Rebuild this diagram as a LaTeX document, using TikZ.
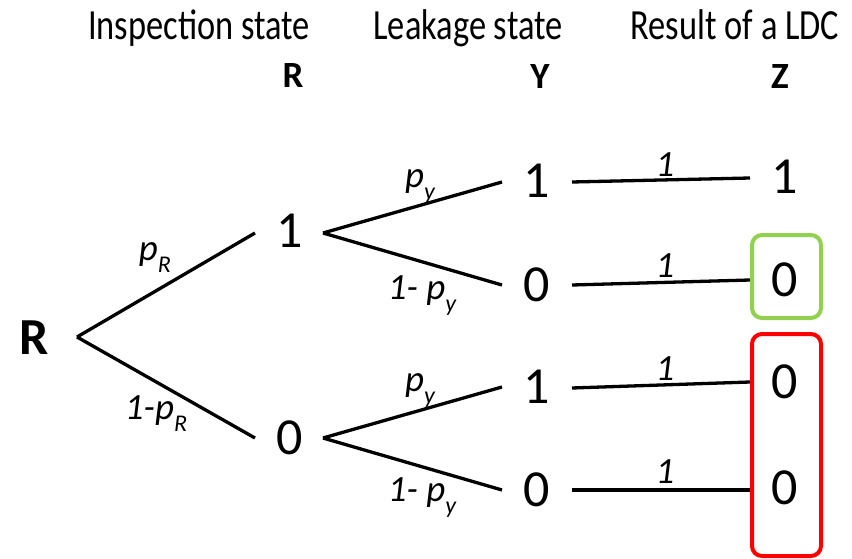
\documentclass[tikz,border=0pt]{standalone}
\usepackage{fontspec}
\setmainfont{Carlito}
\usepackage{graphicx}
\usetikzlibrary{calc}
\definecolor{boxgreen}{RGB}{146,208,80}
\definecolor{boxred}{RGB}{255,0,0}
\newcommand\sbs[1]{\raisebox{-12pt}{\fontsize{24}{24}\selectfont #1}}
\begin{document}
\begin{tikzpicture}[x=1pt,y=-1pt,
  edge/.style={line width=3.3pt},
  digit/.style={font=\fontsize{52}{52}\selectfont, inner sep=0pt},
  lbl/.style={font=\fontsize{37}{40}\selectfont\itshape, inner sep=0pt},
  head/.style={font=\fontsize{43}{50}\selectfont, anchor=base, inner sep=0pt},
  var/.style={font=\fontsize{37}{37}\selectfont\bfseries, inner sep=0pt},
  hl/.style={line width=4pt, rounded corners=10pt}]
\useasboundingbox (0,0) rectangle (852,559);
% headings
\node[head] (h1) at (199,40) {\scalebox{0.8}[1]{Inspection state}};
\node[head] (h2) at (468,40) {\scalebox{0.8}[1]{Leakage state}};
\node[head] (h3) at (735,40) {\scalebox{0.8}[1]{Result of a LDC}};
\node[var] (vR) at (293,76) {R};
\node[var] (vY) at (540,77) {Y};
\node[var] (vZ) at (780,77) {Z};
% nodes
\node[digit,font=\fontsize{52}{52}\selectfont\bfseries] (root) at (34,338) {R};
\node[digit] (n1) at (290,231) {1};
\node[digit] (n0) at (290,438) {0};
\node[digit] (y1a) at (537,181) {1};
\node[digit] (y0a) at (537,285) {0};
\node[digit] (y1b) at (537,387) {1};
\node[digit] (y0b) at (537,490) {0};
\node[digit] (z1a) at (785,177) {1};
\node[digit] (z0a) at (785,280) {0};
\node[digit] (z0b) at (785,382) {0};
\node[digit] (z0c) at (785,488) {0};
% edges level 1
\draw[edge] ($(root.center)+(43,-1)$) -- ($(n1.center)+(-35,2)$);
\draw[edge] ($(root.center)+(43,-1)$) -- ($(n0.center)+(-35,0)$);
% edges level 2
\draw[edge] ($(n1.center)+(33,2)$) -- ($(y1a.center)+(-35,1)$);
\draw[edge] ($(n1.center)+(33,2)$) -- ($(y0a.center)+(-35,0)$);
\draw[edge] ($(n0.center)+(33,0)$) -- ($(y1b.center)+(-35,0)$);
\draw[edge] ($(n0.center)+(33,0)$) -- ($(y0b.center)+(-35,0)$);
% edges level 3
\draw[edge] ($(y1a.center)+(35,1)$) -- ($(z1a.center)+(-35,1)$);
\draw[edge] ($(y0a.center)+(35,0)$) -- ($(z0a.center)+(-35,0)$);
\draw[edge] ($(y1b.center)+(35,1)$) -- ($(z0b.center)+(-35,0)$);
\draw[edge] ($(y0b.center)+(35,0)$) -- ($(z0c.center)+(-35,2)$);
% probability labels
\node[lbl] (lpR) at (155,258) {p\sbs{R}};
\node[lbl] (lqR) at (156,414) {1-p\sbs{R}};
\node[lbl] (lpy1) at (420,186) {p\sbs{y}};
\node[lbl] (lqy1) at (422,296) {1- p\sbs{y}};
\node[lbl] (lpy2) at (420,390) {p\sbs{y}};
\node[lbl] (lqy2) at (422,498) {1- p\sbs{y}};
\node[lbl] (w1) at (665,165) {1};
\node[lbl] (w2) at (665,266) {1};
\node[lbl] (w3) at (665,369) {1};
\node[lbl] (w4) at (665,472) {1};
% highlight boxes
\draw[hl, draw=boxgreen] (752,235) rectangle (821,318);
\draw[hl, draw=boxred] (752,334) rectangle (821,556);
\end{tikzpicture}
\end{document}
